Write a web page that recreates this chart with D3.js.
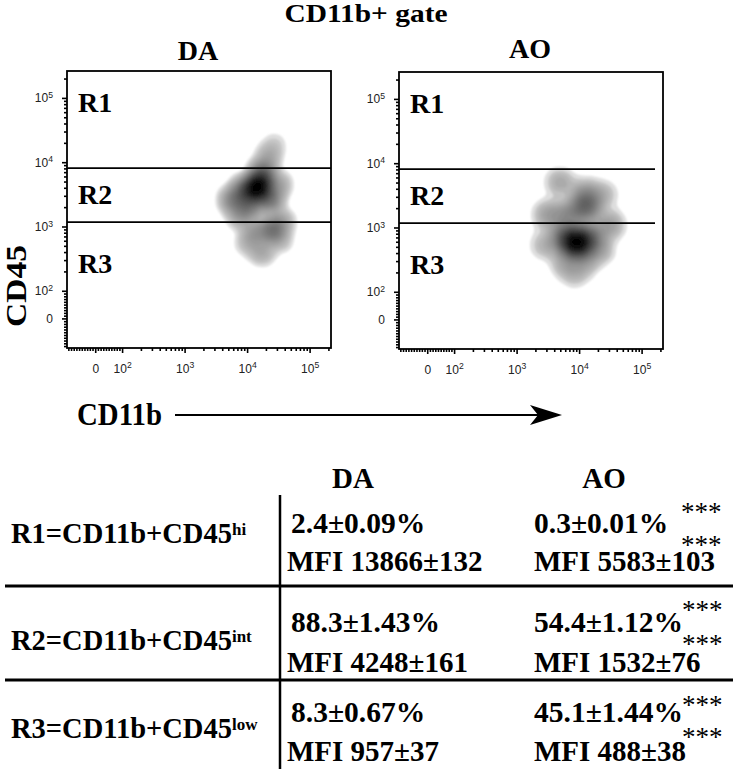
<!DOCTYPE html>
<html><head><meta charset="utf-8">
<script src="https://cdn.jsdelivr.net/npm/d3@7"></script>
<style>body{margin:0;background:#fff} svg{display:block}</style>
</head><body>
<svg id="c" width="733" height="769"></svg>
<script>
// ---------------- data ----------------
const chartTitle = 'CD11b+ gate';
const panelNames = ['DA', 'AO'];
const regionNames = ['R1', 'R2', 'R3'];
const axisTickValues = [0, 100, 1000, 10000, 100000];
const axisTickBases = ['0', '10', '10', '10', '10'];
const axisTickExps = ['', '2', '3', '4', '5'];
const gateCD45 = [8100, 1170];
const xAxisTitle = 'CD11b';
const yAxisTitle = 'CD45';

// density anchor points (CD11b, CD45, relative weight)
const daCD11b = [14950, 17320, 21600, 26950, 9260, 5950, 23250, 7700, 25030, 13380, 36180, 17320, 10340, 33610, 11130, 31230];
const daCD45  = [3970, 6325, 11630, 18520, 3697, 2584, 2584, 1510, 882, 821, 1176, 400, 554, 617, 2160, 4420];
const daWeight = [10, 4.5, 1.2, 0.5, 4, 2.5, 3, 1.5, 3, 1.5, 1.2, 1.2, 0.8, 0.8, 3, 1.5];

const aoCD11b = [9260, 5950, 14950, 12900, 12430, 4950, 3181, 2848, 5950, 12430, 31230, 24130, 6645, 21600, 8600];
const aoCD45  = [574, 687, 687, 2084, 3441, 5000, 1565, 535, 281, 291, 1094, 3203, 1565, 447, 183];
const aoWeight = [9, 3.5, 3, 3.5, 1.5, 1.2, 1.5, 1, 1.2, 1.2, 1.5, 1, 2, 1.2, 0.7];

// table
const tableHeaders = ['DA', 'AO'];
const rowLabels = ['R1=CD11b+CD45', 'R2=CD11b+CD45', 'R3=CD11b+CD45'];
const rowSups = ['hi', 'int', 'low'];
const daPercent = ['2.4±0.09%', '88.3±1.43%', '8.3±0.67%'];
const daMFI = ['MFI 13866±132', 'MFI 4248±161', 'MFI 957±37'];
const aoPercent = ['0.3±0.01%', '54.4±1.12%', '45.1±1.44%'];
const aoMFI = ['MFI 5583±103', 'MFI 1532±76', 'MFI 488±38'];
const aoPercentSig = ['***', '***', '***'];
const aoMFISig = ['***', '***', '***'];

// ---------------- drawing ----------------
const svg = d3.select('#c');
const SERIF = "'Liberation Serif','Times New Roman',serif";
const SANS = "'Liberation Sans',Arial,sans-serif";

// biexponential-like display transform
const K = 0.43;
const T = v => v >= 100 ? Math.log10(v) - 2 + K : K * v / 100;

const W = 264, H = 277;
const xS = d3.scaleLinear().domain([T(-105), T(220000)]).range([0, W]);
const yS = d3.scaleLinear().domain([T(-107), T(262144)]).range([H, 0]);

const minorVals = [];
for (let v = -100; v <= 90; v += 10) if (v !== 0) minorVals.push(v);
[100, 1000, 10000].forEach(d => { for (let m = 2; m <= 9; m++) minorVals.push(m * d); });
minorVals.push(200000);

svg.append('text').attr('x', 366).attr('y', 22).attr('text-anchor', 'middle')
  .attr('font-family', SERIF).attr('font-weight', 'bold').attr('font-size', 25)
  .attr('textLength', 163).attr('lengthAdjust', 'spacingAndGlyphs').text(chartTitle);

const panels = [
  {name: panelNames[0], x: 67, y: 71, cx: daCD11b, cy: daCD45, w: daWeight, gateEnd: W, titleY: 60, bw: 7},
  {name: panelNames[1], x: 399, y: 72, cx: aoCD11b, cy: aoCD45, w: aoWeight, gateEnd: W - 8, titleY: 58, bw: 8}
];

const defs = svg.append('defs');
defs.append('filter').attr('id', 'soft').append('feGaussianBlur').attr('stdDeviation', 1.1);

panels.forEach((p, pi) => {
  const g = svg.append('g').attr('transform', `translate(${p.x},${p.y})`);
  defs.append('clipPath').attr('id', 'clip' + pi).append('rect').attr('width', W).attr('height', H);

  // title
  svg.append('text').attr('x', p.x + W / 2 - 1).attr('y', p.titleY).attr('text-anchor', 'middle')
    .attr('font-family', SERIF).attr('font-weight', 'bold').attr('font-size', 28).text(p.name);

  // density
  const pts = p.cx.map((v, i) => ({x: v, y: p.cy[i], w: p.w[i]}));
  const contours = d3.contourDensity()
    .x(d => xS(T(d.x))).y(d => yS(T(d.y))).weight(d => d.w)
    .size([W, H]).cellSize(2).bandwidth(p.bw).thresholds(50)(pts);
  const vmin = d3.min(contours, c => c.value), vmax = d3.max(contours, c => c.value);
  const col = d3.scaleLinear().domain([0, 1]).range(['#dedede', '#000000']);
  g.append('g').attr('clip-path', `url(#clip${pi})`).attr('filter', 'url(#soft)')
    .selectAll('path').data(contours).join('path')
    .attr('d', d3.geoPath())
    .attr('fill', c => col(Math.pow((c.value - vmin) / (vmax - vmin), 0.55)));

  // gates
  gateCD45.forEach(gv => {
    g.append('line').attr('x1', 0).attr('x2', p.gateEnd)
      .attr('y1', yS(T(gv))).attr('y2', yS(T(gv)))
      .attr('stroke', '#000').attr('stroke-width', 1.8);
  });

  // region labels
  [41, 133, 202].forEach((ry, i) => {
    g.append('text').attr('x', 11).attr('y', ry)
      .attr('font-family', SERIF).attr('font-weight', 'bold').attr('font-size', 28).text(regionNames[i]);
  });

  // box
  g.append('rect').attr('width', W).attr('height', H).attr('fill', 'none')
    .attr('stroke', '#000').attr('stroke-width', 1.8);

  // axes
  const fmtLabels = sel => {
    sel.selectAll('.tick text').each(function (d) {
      const i = axisTickValues.map(T).indexOf(d);
      const t = d3.select(this);
      t.text(null);
      t.append('tspan').text(axisTickBases[i]);
      if (axisTickExps[i]) t.append('tspan').attr('dy', '-0.5em').attr('font-size', '0.72em').text(axisTickExps[i]);
    });
  };
  const yMinor = g.append('g').call(d3.axisLeft(yS).tickValues(minorVals.map(T)).tickSize(3).tickFormat(''));
  const yMajor = g.append('g').call(d3.axisLeft(yS).tickValues(axisTickValues.map(T)).tickSize(5).tickPadding(9));
  const xMinor = g.append('g').attr('transform', `translate(0,${H})`)
    .call(d3.axisBottom(xS).tickValues(minorVals.map(T)).tickSize(3).tickFormat(''));
  const xMajor = g.append('g').attr('transform', `translate(0,${H})`)
    .call(d3.axisBottom(xS).tickValues(axisTickValues.map(T)).tickSize(5).tickPadding(11));
  [yMinor, yMajor, xMinor, xMajor].forEach(a => {
    a.select('.domain').remove();
    a.selectAll('line').attr('stroke', '#000').attr('stroke-width', 1.6);
    a.selectAll('text').attr('font-family', SANS).attr('font-size', 12).attr('fill', '#222');
  });
  fmtLabels(yMajor); fmtLabels(xMajor);
});

// axis titles
svg.append('text').attr('transform', 'translate(26,286) rotate(-90)').attr('text-anchor', 'middle')
  .attr('font-family', SERIF).attr('font-weight', 'bold').attr('font-size', 29)
  .attr('textLength', 82).attr('lengthAdjust', 'spacingAndGlyphs').text(yAxisTitle);
svg.append('text').attr('x', 77).attr('y', 425)
  .attr('font-family', SERIF).attr('font-weight', 'bold').attr('font-size', 31)
  .attr('textLength', 85).attr('lengthAdjust', 'spacingAndGlyphs').text(xAxisTitle);
svg.append('line').attr('x1', 175).attr('x2', 540).attr('y1', 415).attr('y2', 415)
  .attr('stroke', '#000').attr('stroke-width', 2);
svg.append('path').attr('d', 'M562,415 L530,405 L538,415 L530,425 Z').attr('fill', '#000');

// ---------------- table ----------------
const tb = svg.append('g').attr('font-family', SERIF).attr('font-weight', 'bold').attr('fill', '#000');
tb.append('text').attr('x', 353).attr('y', 488).attr('text-anchor', 'middle').attr('font-size', 29).text(tableHeaders[0]);
tb.append('text').attr('x', 604).attr('y', 488).attr('text-anchor', 'middle').attr('font-size', 29).text(tableHeaders[1]);
tb.append('line').attr('x1', 280).attr('x2', 280).attr('y1', 495).attr('y2', 769).attr('stroke', '#000').attr('stroke-width', 2.5);
[586, 680].forEach(y => tb.append('line').attr('x1', 5).attr('x2', 733).attr('y1', y).attr('y2', y)
  .attr('stroke', '#000').attr('stroke-width', 3));

const labelY = [543, 650, 738], pctY = [533, 632, 722], mfiY = [571, 672, 761];
const star1Y = [521, 619, 714], star2Y = [554, 653, 746], starX = [681, 682, 682];
rowLabels.forEach((lab, i) => {
  const t = tb.append('text').attr('x', 11).attr('y', labelY[i]).attr('font-size', 28.5);
  t.append('tspan').text(lab);
  t.append('tspan').attr('dy', -8).attr('font-size', 17).text(rowSups[i]);

  const da = tb.append('text').attr('font-size', 29.5);
  da.append('tspan').attr('x', 291).attr('y', pctY[i]).text(daPercent[i]);
  da.append('tspan').attr('x', 287).attr('y', mfiY[i]).attr('font-size', 29).text(daMFI[i]);

  const ao = tb.append('text').attr('font-size', 29.5);
  ao.append('tspan').attr('x', 534).attr('y', pctY[i]).text(aoPercent[i]);
  ao.append('tspan').attr('x', starX[i]).attr('y', star1Y[i]).attr('font-size', 27).attr('font-weight', 'normal').text(aoPercentSig[i]);
  ao.append('tspan').attr('x', starX[i]).attr('y', star2Y[i]).attr('font-size', 27).attr('font-weight', 'normal').text(aoMFISig[i]);
  ao.append('tspan').attr('x', 534).attr('y', mfiY[i]).attr('font-size', 29).text(aoMFI[i]);
});
</script>
</body></html>
